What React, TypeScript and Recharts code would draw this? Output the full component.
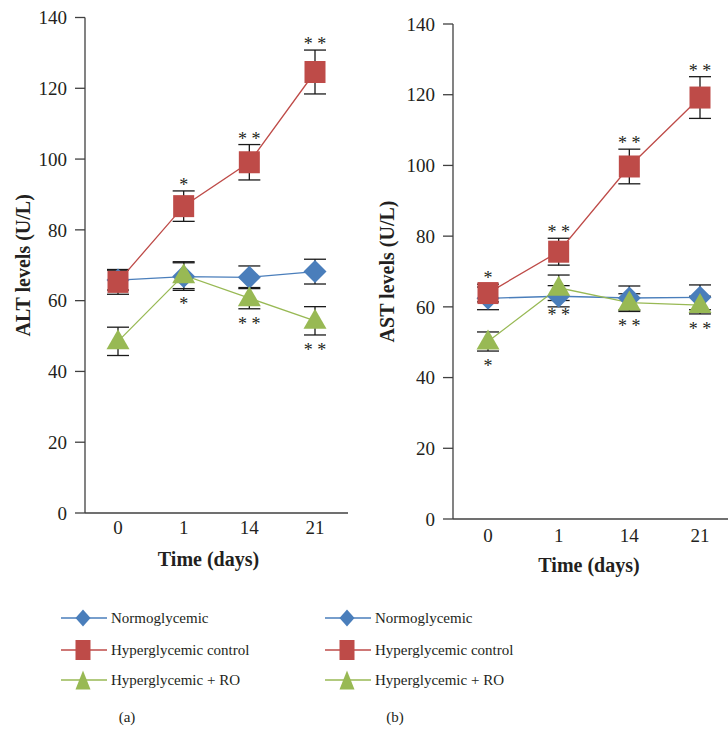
import React from 'react';
import { LineChart, Line, XAxis, YAxis, ErrorBar, LabelList, Label } from 'recharts';

const serif = '"Liberation Serif", "Times New Roman", serif';
const ink = '#231f20';
const axisColor = '#404040';
const blue = '#4a7ebb';
const red = '#be4b48';
const green = '#98b954';

const days = ['0', '1', '14', '21'];
const yTicks = [0, 20, 40, 60, 80, 100, 120, 140];

// (a) ALT
const altNormo = [65.8, 66.8, 66.6, 68.2];
const altNormoErr = [2.8, 3.9, 3.2, 3.5];
const altHyper = [65.3, 86.7, 99.1, 124.6];
const altHyperErr = [3.5, 4.3, 5.0, 6.2];
const altRO = [48.5, 67.2, 60.7, 54.3];
const altROErr = [4.0, 3.8, 3.0, 4.0];
const altHyperSig = ['', '*', '**', '**'];
const altROSig = ['', '*', '**', '**'];

// (b) AST
const astNormo = [62.4, 63.0, 62.5, 62.7];
const astNormoErr = [3.2, 3.0, 3.4, 3.5];
const astHyper = [63.9, 75.6, 99.7, 119.2];
const astHyperErr = [2.5, 3.8, 4.9, 5.9];
const astRO = [50.2, 65.4, 61.2, 60.5];
const astROErr = [2.7, 3.6, 2.5, 2.5];
const astHyperSig = ['*', '**', '**', '**'];
const astROSig = ['*', '**', '**', '**'];

const legendItems = ['Normoglycemic', 'Hyperglycemic control', 'Hyperglycemic + RO'];

const buildRows = (
  normo: number[], normoErr: number[],
  hyper: number[], hyperErr: number[],
  ro: number[], roErr: number[],
  hyperSig: string[], roSig: string[]
) =>
  days.map((day, i) => ({
    day,
    normo: normo[i],
    normoErr: normoErr[i],
    hyper: hyper[i],
    hyperErr: hyperErr[i],
    ro: ro[i],
    roErr: roErr[i],
    hyperTop: hyper[i] + hyperErr[i],
    roLow: ro[i] - roErr[i],
    hyperSig: hyperSig[i],
    roSig: roSig[i],
  }));

const altData = buildRows(altNormo, altNormoErr, altHyper, altHyperErr, altRO, altROErr, altHyperSig, altROSig);
const astData = buildRows(astNormo, astNormoErr, astHyper, astHyperErr, astRO, astROErr, astHyperSig, astROSig);

const renderDiamond = (p: any) => {
  const { cx, cy, index } = p;
  if (cx == null || cy == null) return <g key={`dm-${index}`} />;
  const s = 11.5;
  return <path key={`dm-${index}`} d={`M${cx},${cy - s}L${cx + s},${cy}L${cx},${cy + s}L${cx - s},${cy}Z`} fill={blue} />;
};

const renderSquare = (p: any) => {
  const { cx, cy, index } = p;
  if (cx == null || cy == null) return <g key={`sq-${index}`} />;
  return <rect key={`sq-${index}`} x={cx - 10.5} y={cy - 11} width={21} height={22} fill={red} />;
};

const renderTriangle = (p: any) => {
  const { cx, cy, index } = p;
  if (cx == null || cy == null) return <g key={`tr-${index}`} />;
  return <path key={`tr-${index}`} d={`M${cx},${cy - 12}L${cx + 11.5},${cy + 8}L${cx - 11.5},${cy + 8}Z`} fill={green} />;
};

const starLabel = (dy: number) => (props: any) => {
  const { x, y, value, index } = props;
  if (!value) return null;
  return (
    <text key={`st-${index}`} x={x} y={y + dy} textAnchor="middle" fontSize={18} fill={ink} fontFamily={serif}>
      {String(value).split('').join(' ')}
    </text>
  );
};

const tickStyle = { fontSize: 19, fill: ink, fontFamily: serif };
const axisLabelStyle = { fontSize: 20, fontWeight: 700, fill: ink, fontFamily: serif };

interface PanelProps {
  data: any[];
  width: number;
  top: number;
  right: number;
  bottom: number;
  yAxisWidth: number;
  pad: number;
  yLabel: string;
  xLabelDx: number;
  xTickMargin: number;
}

const Panel: React.FC<PanelProps> = ({ data, width, top, right, bottom, yAxisWidth, pad, yLabel, xLabelDx, xTickMargin }) => (
  <LineChart width={width} height={590} data={data} margin={{ top, right, bottom, left: 0 }}>
    <XAxis
      dataKey="day"
      height={60}
      interval={0}
      tickLine={false}
      tickMargin={xTickMargin}
      axisLine={{ stroke: axisColor, strokeWidth: 1.3 }}
      tick={tickStyle}
      padding={{ left: pad, right: pad }}
    >
      <Label value="Time (days)" position="insideBottom" offset={7} dx={xLabelDx} style={axisLabelStyle} />
    </XAxis>
    <YAxis
      width={yAxisWidth}
      domain={[0, 140]}
      ticks={yTicks}
      interval={0}
      tickSize={10}
      tickMargin={8}
      tickLine={{ stroke: axisColor, strokeWidth: 1.3 }}
      axisLine={{ stroke: axisColor, strokeWidth: 1.3 }}
      tick={tickStyle}
    >
      <Label value={yLabel} angle={-90} position="insideLeft" offset={23} style={{ ...axisLabelStyle, textAnchor: 'middle' }} />
    </YAxis>
    <Line dataKey="normo" stroke={blue} strokeWidth={1.3} dot={renderDiamond} activeDot={false} isAnimationActive={false}>
      <ErrorBar dataKey="normoErr" width={11} stroke="#1a1a1a" strokeWidth={1.3} />
    </Line>
    <Line dataKey="hyper" stroke={red} strokeWidth={1.3} dot={renderSquare} activeDot={false} isAnimationActive={false}>
      <ErrorBar dataKey="hyperErr" width={11} stroke="#1a1a1a" strokeWidth={1.3} />
    </Line>
    <Line dataKey="ro" stroke={green} strokeWidth={1.3} dot={renderTriangle} activeDot={false} isAnimationActive={false}>
      <ErrorBar dataKey="roErr" width={11} stroke="#1a1a1a" strokeWidth={1.3} />
    </Line>
    <Line dataKey="hyperTop" stroke="none" dot={false} activeDot={false} isAnimationActive={false}>
      <LabelList dataKey="hyperSig" content={starLabel(0)} />
    </Line>
    <Line dataKey="roLow" stroke="none" dot={false} activeDot={false} isAnimationActive={false}>
      <LabelList dataKey="roSig" content={starLabel(21)} />
    </Line>
  </LineChart>
);

const LegendIcon: React.FC<{ kind: number }> = ({ kind }) => {
  const colors = [blue, red, green];
  const c = colors[kind];
  return (
    <svg width={46} height={24} style={{ display: 'block' }}>
      <line x1={0} y1={12} x2={46} y2={12} stroke={c} strokeWidth={1.3} />
      {kind === 0 && <path d="M22,3.5L29.5,12L22,20.5L14.5,12Z" fill={c} />}
      {kind === 1 && <rect x={14.5} y={2} width={15} height={20} fill={c} />}
      {kind === 2 && <path d="M22,2.5L29.5,21.5L14.5,21.5Z" fill={c} />}
    </svg>
  );
};

const PanelLegend: React.FC<{ left: number }> = ({ left }) => (
  <>
    {legendItems.map((name, i) => (
      <div
        key={name}
        style={{
          position: 'absolute',
          left,
          top: [618, 650, 680][i] - 12,
          height: 24,
          display: 'flex',
          alignItems: 'center',
          whiteSpace: 'nowrap',
        }}
      >
        <LegendIcon kind={i} />
        <span style={{ marginLeft: 4, fontSize: 15, color: ink, fontFamily: serif }}>{name}</span>
      </div>
    ))}
  </>
);

export default function App() {
  return (
    <div style={{ position: 'absolute', left: 0, top: 0, width: 728, height: 735, overflow: 'hidden', background: '#fff' }}>
      <div style={{ position: 'absolute', left: 0, top: 0 }}>
        <Panel data={altData} width={364} top={17.5} right={16} bottom={17} yAxisWidth={85} pad={33} yLabel="ALT levels (U/L)" xLabelDx={-8} xTickMargin={2} />
      </div>
      <div style={{ position: 'absolute', left: 364, top: 0 }}>
        <Panel data={astData} width={371} top={24} right={0} bottom={11} yAxisWidth={89} pad={35} yLabel="AST levels (U/L)" xLabelDx={-5} xTickMargin={4} />
      </div>
      <PanelLegend left={61} />
      <PanelLegend left={325} />
      <div style={{ position: 'absolute', left: 107, width: 40, top: 709, textAlign: 'center', fontSize: 15, color: ink, fontFamily: serif }}>(a)</div>
      <div style={{ position: 'absolute', left: 375, width: 40, top: 709, textAlign: 'center', fontSize: 15, color: ink, fontFamily: serif }}>(b)</div>
    </div>
  );
}
